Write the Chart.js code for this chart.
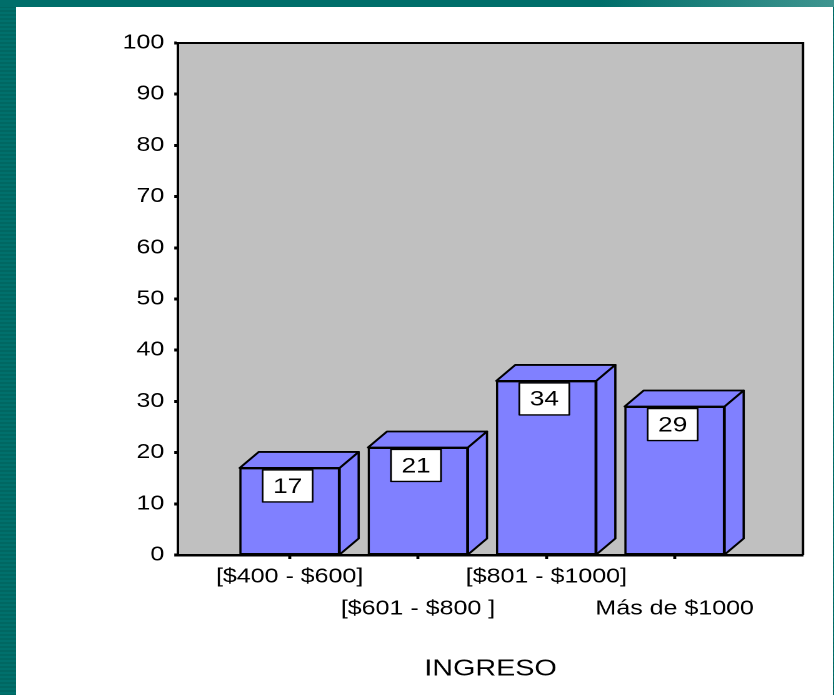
<!DOCTYPE html>
<html>
<head>
<meta charset="utf-8">
<script src="https://cdn.jsdelivr.net/npm/chart.js@4"></script>
<style>
  html, body { margin: 0; padding: 0; }
  body {
    width: 834px; height: 695px; position: relative; overflow: hidden;
    background: repeating-linear-gradient(to bottom, #00706c 0px, #00706c 2px, #006762 2px, #006762 4px);
  }
  #topbar {
    position: absolute; left: 0; top: 0; width: 834px; height: 7px;
    background: linear-gradient(to right, #006e6a 0%, #006e6a 72%, #3f9590 100%);
  }
  #panel { position: absolute; left: 16px; top: 7px; width: 817px; height: 688px; background: #fff; }
  /* the original picture is stretched sideways, so the canvas is too */
  #chart {
    position: absolute; left: 16px; top: 7px; width: 654px; height: 688px;
    transform: scaleX(1.25); transform-origin: 0 0;
  }
</style>
</head>
<body>
<div id="topbar"></div>
<div id="panel"></div>
<canvas id="chart" width="654" height="688"></canvas>
<script>
const CATEGORIES = ["[$400 - $600]", "[$601 - $800 ]", "[$801 - $1000]", "Más de $1000"];
const VALUES = [17, 21, 34, 29];
const Y_MIN = 0;
const Y_MAX = 100;
const Y_STEP = 10;
const AXIS_TITLE = "INGRESO";

var FONT = "'Liberation Sans', Arial, sans-serif";
var BAR_COLOR = "#8080ff";
var DEPTH_X = 15.2;
var DEPTH_Y = -16;

// grey plot area with a black frame
var plotBackground = {
  id: "plotBackground",
  beforeDraw: function (chart) {
    var a = chart.chartArea;
    var ctx = chart.ctx;
    ctx.save();
    ctx.fillStyle = "#c0c0c0";
    ctx.fillRect(a.left, a.top, a.right - a.left, a.bottom - a.top);
    ctx.restore();
  },
  beforeDatasetsDraw: function (chart) {
    var a = chart.chartArea;
    var ctx = chart.ctx;
    ctx.save();
    ctx.strokeStyle = "#000";
    ctx.lineWidth = 2;
    ctx.beginPath();
    ctx.moveTo(a.left, a.top);
    ctx.lineTo(a.right, a.top);
    ctx.lineTo(a.right, a.bottom);
    ctx.stroke();
    ctx.restore();
  },
};

// top and side faces of each bar, then the value box
var bars3d = {
  id: "bars3d",
  afterDatasetsDraw: function (chart) {
    var ctx = chart.ctx;
    var meta = chart.getDatasetMeta(0);
    meta.data.forEach(function (bar, i) {
      var p = bar.getProps(["x", "y", "base", "width"], true);
      var l = p.x - p.width / 2;
      var r = p.x + p.width / 2;
      ctx.save();
      ctx.fillStyle = BAR_COLOR;
      ctx.strokeStyle = "#000";
      ctx.lineWidth = 1.8;
      ctx.lineJoin = "round";

      ctx.beginPath();
      ctx.moveTo(l, p.y);
      ctx.lineTo(l + DEPTH_X, p.y + DEPTH_Y);
      ctx.lineTo(r + DEPTH_X, p.y + DEPTH_Y);
      ctx.lineTo(r, p.y);
      ctx.closePath();
      ctx.fill();
      ctx.stroke();

      ctx.beginPath();
      ctx.moveTo(r, p.y);
      ctx.lineTo(r + DEPTH_X, p.y + DEPTH_Y);
      ctx.lineTo(r + DEPTH_X, p.base + DEPTH_Y);
      ctx.lineTo(r, p.base);
      ctx.closePath();
      ctx.fill();
      ctx.stroke();

      var bx = p.x - 1.6 - 20;
      var by = p.y + 2;
      ctx.fillStyle = "#fff";
      ctx.fillRect(bx, by, 40, 32);
      ctx.lineWidth = 1.4;
      ctx.strokeRect(bx, by, 40, 32);
      ctx.fillStyle = "#000";
      ctx.font = "21px " + FONT;
      ctx.textAlign = "center";
      ctx.textBaseline = "middle";
      ctx.fillText(String(VALUES[i]), p.x - 1.6, by + 17);
      ctx.restore();
    });
  },
};

new Chart(document.getElementById("chart"), {
  type: "bar",
  data: {
    datasets: [
      {
        data: VALUES.map(function (v, i) {
          return { x: i, y: v };
        }),
        backgroundColor: BAR_COLOR,
        borderColor: "#000",
        borderWidth: 1.8,
        borderSkipped: false,
        barThickness: 80,
      },
    ],
  },
  options: {
    responsive: false,
    devicePixelRatio: 2,
    animation: false,
    layout: { padding: { left: 0, top: 36, right: 24.4, bottom: 0 } },
    plugins: {
      legend: { display: false },
      tooltip: { enabled: false },
    },
    scales: {
      x: {
        type: "linear",
        min: -0.87,
        max: 4,
        offset: false,
        afterBuildTicks: function (scale) {
          scale.ticks = CATEGORIES.map(function (c, i) {
            return { value: i };
          });
        },
        afterFit: function (scale) {
          scale.height = 140;
        },
        border: { color: "#000", width: 2.5 },
        grid: { offset: false, drawOnChartArea: false, tickLength: 4, tickWidth: 2.4, tickColor: "#000" },
        ticks: {
          autoSkip: false,
          maxRotation: 0,
          minRotation: 0,
          padding: 2,
          color: "#000",
          font: { family: FONT, size: 20, lineHeight: "32px" },
          callback: function (value) {
            // labels alternate between two rows
            return value % 2 === 0 ? [CATEGORIES[value]] : ["", CATEGORIES[value]];
          },
        },
        title: {
          display: true,
          text: AXIS_TITLE,
          color: "#000",
          font: { family: FONT, size: 23 },
          padding: { top: 0, bottom: 12 },
        },
      },
      y: {
        min: Y_MIN,
        max: Y_MAX,
        afterFit: function (scale) {
          scale.width = 129.6;
        },
        border: { color: "#000", width: 2 },
        grid: { drawOnChartArea: false, tickLength: 3, tickWidth: 3, tickColor: "#000" },
        ticks: {
          stepSize: Y_STEP,
          padding: 8,
          color: "#000",
          font: { family: FONT, size: 20 },
        },
      },
    },
  },
  plugins: [plotBackground, bars3d],
});
</script>
</body>
</html>
